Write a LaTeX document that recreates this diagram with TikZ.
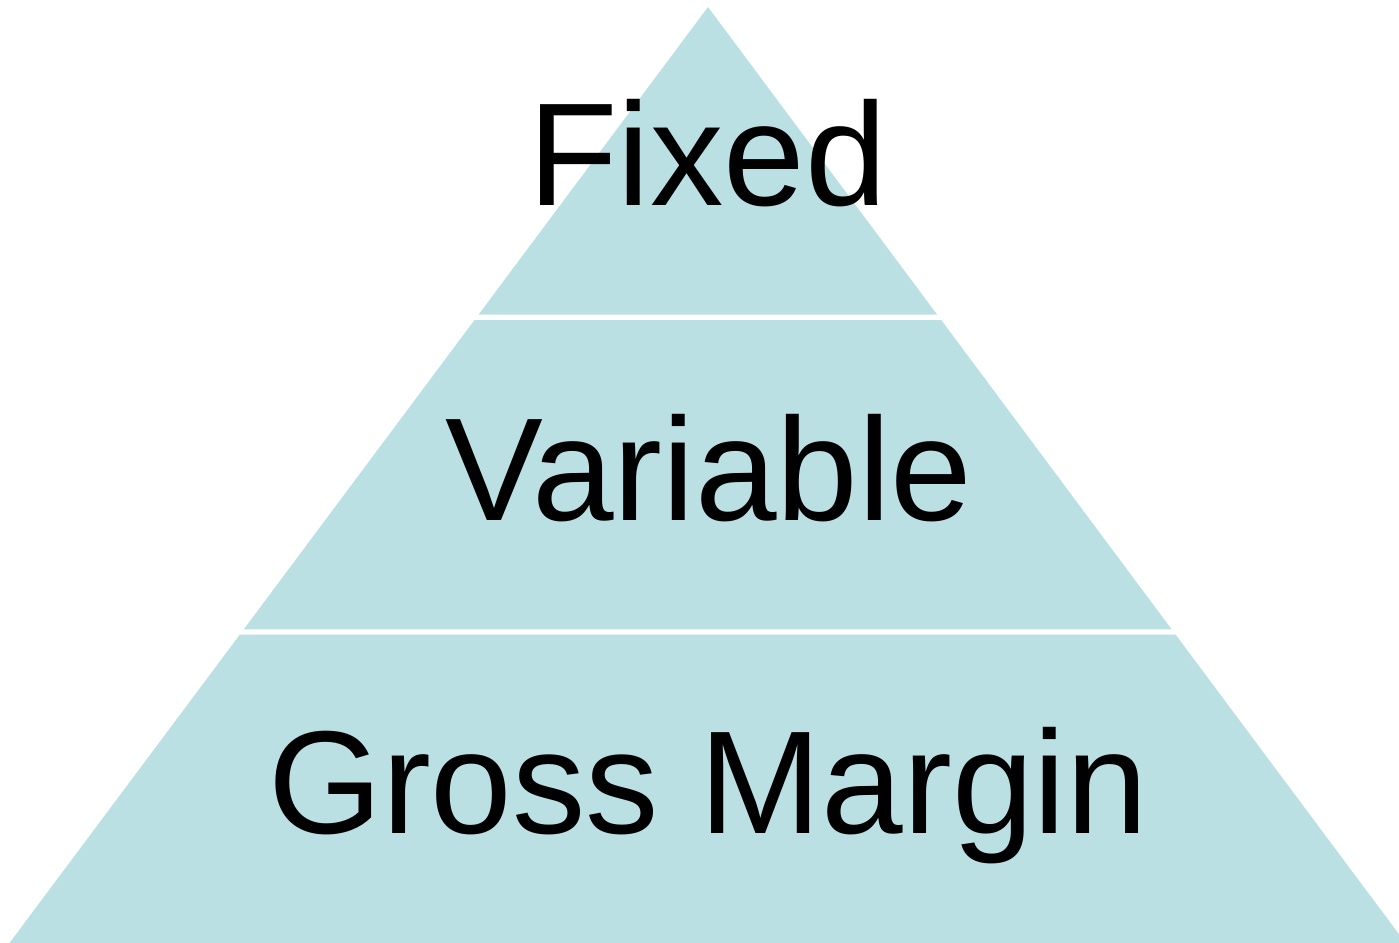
\documentclass[tikz,border=0pt]{standalone}
\usepackage{fontspec}
\setmainfont{Liberation Sans}
\definecolor{bandfill}{RGB}{187,224,227}
\begin{document}
\begin{tikzpicture}[x=0.5pt,y=-0.5pt,
  band/.style={fill=bandfill,draw=none},
  label/.style={anchor=base,inner sep=0pt,text=black,font=\fontsize{73.3}{80}\selectfont}]
\useasboundingbox (0,0) rectangle (1399,943);
\clip (0,0) rectangle (1399,943);
% bands of the pyramid
\path[band] (708,7) -- (937.2,314.7) -- (478.5,314.7) -- cycle;
\path[band] (474.5,320) -- (941.2,320) -- (1171.6,629.3) -- (243.8,629.3) -- cycle;
\path[band] (239.9,634.5) -- (1175.5,634.5) -- (1410,949) -- (5,949) -- cycle;
% labels
\node[label] (fixed) at (707.5,205) {Fixed};
\node[label] (variable) at (709,520) {Variable};
\node[label] (gross) at (708,833) {Gross Margin};
\end{tikzpicture}
\end{document}
